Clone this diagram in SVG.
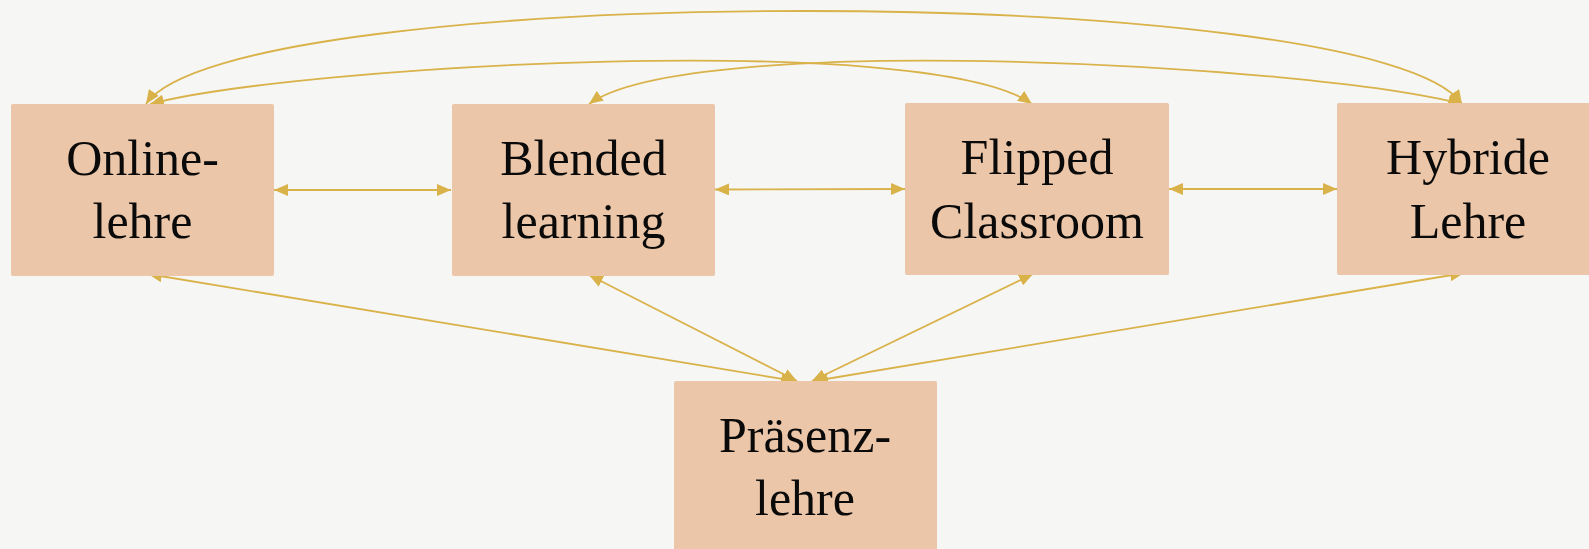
<svg xmlns="http://www.w3.org/2000/svg" width="1589" height="549" viewBox="0 0 1589 549">
<style>
.box{fill:#EBC6A8}
.lbl{font-family:"Liberation Serif",serif;font-size:50px;fill:#0a0a0a;text-anchor:middle}
.c{fill:none;stroke:#D9B24A;stroke-width:1.8}
</style>
<defs>
<marker id="ah" viewBox="0 0 14 12" refX="14" refY="6" markerWidth="14" markerHeight="12" markerUnits="userSpaceOnUse" orient="auto-start-reverse">
<path d="M0,0 L14,6 L0,12 z" fill="#D9B24A"/>
</marker>
</defs>
<rect width="1589" height="549" fill="#F6F6F5"/>
<g id="connectors">
<path class="c" marker-start="url(#ah)" marker-end="url(#ah)" d="M146,104 C230,-20 1378,-20 1462,104"/>
<path class="c" marker-start="url(#ah)" marker-end="url(#ah)" d="M150,104 C300,65 930,30 1032,104"/>
<path class="c" marker-start="url(#ah)" marker-end="url(#ah)" d="M589,104 C690,30 1314,65 1462,104"/>
<path class="c" marker-start="url(#ah)" marker-end="url(#ah)" d="M274,190 L451,190"/>
<path class="c" marker-start="url(#ah)" marker-end="url(#ah)" d="M715,189.5 L905,189"/>
<path class="c" marker-start="url(#ah)" marker-end="url(#ah)" d="M1169,189 L1337,189"/>
<path class="c" marker-start="url(#ah)" marker-end="url(#ah)" d="M148,274 L795,381"/>
<path class="c" marker-start="url(#ah)" marker-end="url(#ah)" d="M589,275 L797,381"/>
<path class="c" marker-start="url(#ah)" marker-end="url(#ah)" d="M1033,274 L812,381"/>
<path class="c" marker-start="url(#ah)" marker-end="url(#ah)" d="M1464,273 L814,381"/>
</g>
<g id="online">
<rect class="box" x="11" y="104" width="263" height="172" rx="2"/>
<text class="lbl" x="142.5" y="175">Online-</text>
<text class="lbl" x="142.5" y="238">lehre</text>
</g>
<g id="blended">
<rect class="box" x="452" y="104" width="263" height="172" rx="2"/>
<text class="lbl" x="583.5" y="175">Blended</text>
<text class="lbl" x="583.5" y="238">learning</text>
</g>
<g id="flipped">
<rect class="box" x="905" y="103" width="264" height="172" rx="2"/>
<text class="lbl" x="1037" y="174">Flipped</text>
<text class="lbl" x="1037" y="238">Classroom</text>
</g>
<g id="hybride">
<rect class="box" x="1337" y="103" width="263" height="172" rx="2"/>
<text class="lbl" x="1468" y="174">Hybride</text>
<text class="lbl" x="1468" y="238">Lehre</text>
</g>
<g id="praesenz">
<rect class="box" x="674" y="381" width="263" height="175" rx="2"/>
<text class="lbl" x="805" y="452">Präsenz-</text>
<text class="lbl" x="805" y="515">lehre</text>
</g>
</svg>
